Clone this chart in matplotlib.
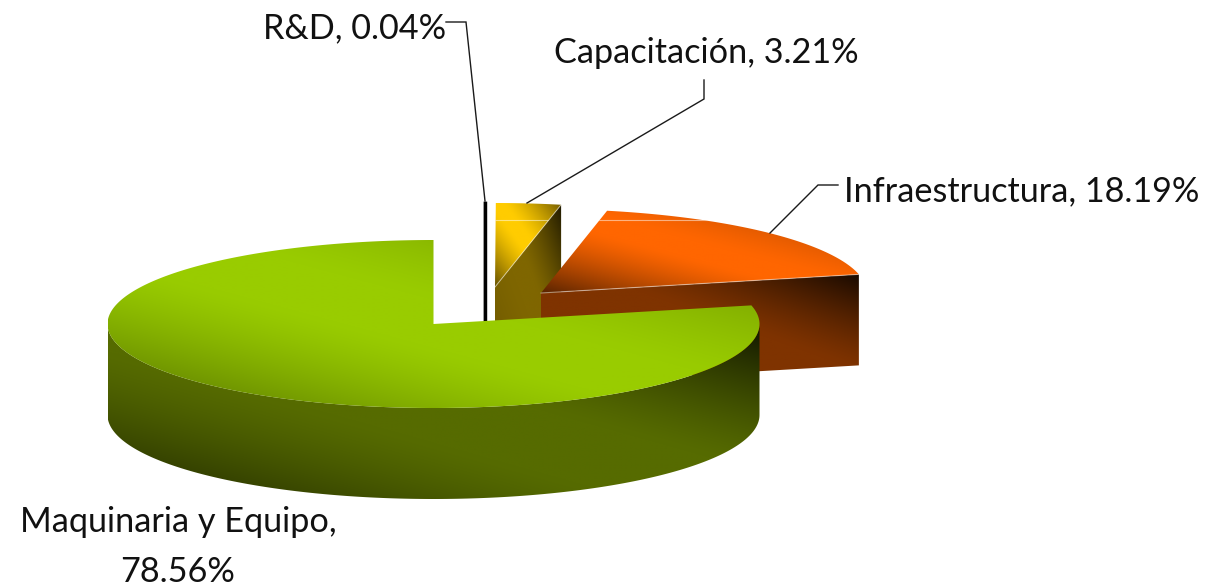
import numpy as np
import matplotlib
matplotlib.use("Agg")
import matplotlib.pyplot as plt
from matplotlib.patches import Polygon
from matplotlib.colors import to_rgb

# ---- data ----
categories = ["R&D", "Capacitación", "Infraestructura", "Maquinaria y Equipo"]
values = [0.04, 3.21, 18.19, 78.56]
label_texts = ["R&D, 0.04%", "Capacitación, 3.21%", "Infraestructura, 18.19%",
               "Maquinaria y Equipo,\n78.56%"]

# ---- layout / style ----
W, H = 1207, 586
RX, RY, DEPTH = 326, 84, 91
apexes = [(485, 287), (495, 287), (541, 293), (433.5, 324)]
top_cols = ["#000000", "#FFCC00", "#FF6600", "#99CC00"]
wall_cols = ["#000000", "#7F6600", "#7F3300", "#566B00"]
label_pos = [(355, 28), (706, 53), (1022, 191), (178, 547)]
leaders = [[(446, 22), (466, 22), (485, 201)],
           [(704, 80), (704, 99), (527, 203)],
           [(838, 185), (818, 185), (770, 233)]]

plt.rcParams['font.family'] = ['Lato', 'DejaVu Sans']
fig = plt.figure(figsize=(W / 100, H / 100), dpi=100)
ax = fig.add_axes([0, 0, 1, 1])
ax.set_axis_off()


def rim(apex, a0, a1, n=200):
    th = np.radians(np.linspace(a0, a1, n))
    return np.c_[apex[0] + RX * np.sin(th), apex[1] - RY * np.cos(th)]


def shaded(poly_xy, color, ur, ll, zorder, band=0.25, gamma=1.3):
    """Fill a polygon with a soft diagonal shading (dark to upper right / lower left)."""
    x0, y0 = poly_xy.min(axis=0)
    x1, y1 = poly_xy.max(axis=0)
    x1 = max(x1, x0 + 1)
    y1 = max(y1, y0 + 1)
    nx, ny = int(x1 - x0) + 2, int(y1 - y0) + 2
    u, v = np.meshgrid(np.linspace(-1, 1, nx), np.linspace(-1, 1, ny))
    t = 0.72 * u - 0.69 * v
    up = np.clip((t - band) / (1.41 - band), 0, 1) ** gamma
    lo = np.clip((-t - band) / (1.41 - band), 0, 1) ** gamma
    f = 1 - ur * up - ll * lo
    rgb = np.clip(np.array(to_rgb(color))[None, None, :] * f[..., None], 0, 1)
    im = ax.imshow(rgb, extent=(x0, x1, y1, y0), aspect='auto', zorder=zorder,
                   interpolation='bilinear')
    patch = Polygon(poly_xy, closed=True, transform=ax.transData, fc='none', ec='none')
    ax.add_patch(patch)
    im.set_clip_path(patch)
    return patch


edges = np.r_[0, np.cumsum(values)] / np.sum(values) * 360
z = 2

# R&D: a sliver that reads as a black bar
a0, a1 = edges[0], edges[1]
ap = np.array(apexes[0], float)
arc = rim(ap, a0, a1, 5)
bottom = ap + [0, DEPTH]
sliver = np.vstack([arc, [arc[-1][0], bottom[1]], bottom])
ax.add_patch(Polygon(sliver, closed=True, fc=top_cols[0], ec=top_cols[0], lw=2.0, zorder=z))
z += 1

# Capacitación and Infraestructura: cut face + top
wall_shade = {1: (0.75, 0.15), 2: (0.80, 0.0)}
top_shade = {1: (0.55, 0.60), 2: (0.36, 0.65)}
for i in (1, 2):
    a0, a1 = edges[i], edges[i + 1]
    ap = np.array(apexes[i], float)
    tip = rim(ap, a1, a1, 1)[0]
    face = np.array([ap, tip, tip + [0, DEPTH], ap + [0, DEPTH]])
    shaded(face, wall_cols[i], *wall_shade[i], z, band=0.2)
    z += 1
    top = np.vstack([ap, rim(ap, a0, a1)])
    clip = shaded(top, top_cols[i], *top_shade[i], z, band=0.15)
    z += 1
    ax.plot([ap[0], tip[0]], [ap[1], tip[1]], color='white', alpha=0.45, lw=0.8, zorder=z)
    hl, = ax.plot([ap[0] - 100, ap[0] + 170], [220, 220], color='white', alpha=0.5, lw=0.8, zorder=z)
    hl.set_clip_path(clip)
    z += 1

# Maquinaria y Equipo: outer wall + top
a0, a1 = edges[3], edges[4]
ap = np.array(apexes[3], float)
front = rim(ap, 90, 270)
wall = np.vstack([front, (front + [0, DEPTH])[::-1]])
shaded(wall, wall_cols[3], 0.80, 0.65, z, band=0.25)
z += 1
top = np.vstack([ap, rim(ap, a0, a1, 400)])
shaded(top, top_cols[3], 0.30, 0.45, z, band=0.2)
z += 1

# leaders and labels
for pts in leaders:
    p = np.array(pts)
    ax.plot(p[:, 0], p[:, 1], color='#1a1a1a', lw=1.0, zorder=z, solid_joinstyle='miter')
for txt, (x, y) in zip(label_texts, label_pos):
    ax.text(x, y, txt, ha='center', va='center', fontsize=24.7, color='#111111',
            linespacing=1.72, zorder=z + 1)

ax.set_xlim(0, W)
ax.set_ylim(H, 0)
fig.savefig("out.png", dpi=100, facecolor='white')
